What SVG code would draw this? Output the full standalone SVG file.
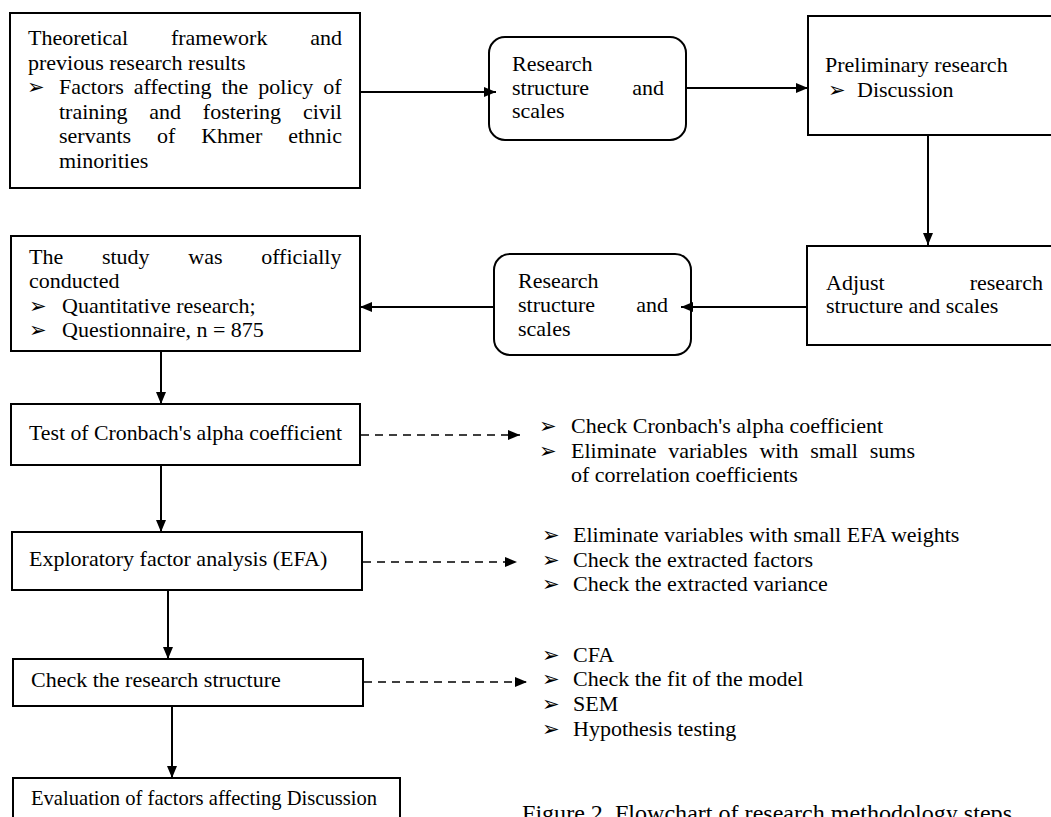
<svg xmlns="http://www.w3.org/2000/svg" width="1051" height="817" viewBox="0 0 1051 817">
<style>
  .box { fill: #ffffff; stroke: #000000; stroke-width: 2; }
  .t { font-family: "Liberation Serif", "Times New Roman", serif; font-size: 22px; fill: #000000; }
  .b { font-family: "DejaVu Sans", sans-serif; font-size: 21px; fill: #000000; }
  .cap { font-family: "Liberation Serif", "Times New Roman", serif; font-size: 23px; fill: #000000; }
  .line { fill: none; stroke: #000000; stroke-width: 2; }
  .dash { fill: none; stroke: #000000; stroke-width: 1.6; stroke-dasharray: 8 6; }
</style>
<defs>
  <marker id="arr" markerUnits="userSpaceOnUse" markerWidth="13" markerHeight="11" refX="12" refY="5" orient="auto" viewBox="0 0 13 11">
    <path d="M0,0 L12,5 L0,10 z" fill="#000000"/>
  </marker>
</defs>
<rect width="1051" height="817" fill="#ffffff"/>

<g id="theory">
  <rect class="box" x="10" y="13" width="350" height="175"/>
  <text class="t" x="28" y="45" word-spacing="37.25">Theoretical framework and</text>
  <text class="t" x="28" y="69.5">previous research results</text>
  <text class="b" x="27" y="94">➢</text>
  <text class="t" x="59" y="94" word-spacing="4.45">Factors affecting the policy of</text>
  <text class="t" x="59" y="118.5" word-spacing="16.33">training and fostering civil</text>
  <text class="t" x="59" y="143" word-spacing="20.4">servants of Khmer ethnic</text>
  <text class="t" x="59" y="167.5">minorities</text>
</g>

<g id="scales1">
  <rect class="box" x="489" y="37" width="197" height="103" rx="16" ry="16"/>
  <text class="t" x="512" y="71">Research</text>
  <text class="t" x="512" y="95" word-spacing="37.7">structure and</text>
  <text class="t" x="512" y="118">scales</text>
</g>

<g id="preliminary">
  <rect class="box" x="808" y="16" width="260" height="119"/>
  <text class="t" x="825" y="72">Preliminary research</text>
  <text class="b" x="828" y="97">➢</text>
  <text class="t" x="857" y="97">Discussion</text>
</g>

<g id="adjust">
  <rect class="box" x="807" y="246" width="260" height="99"/>
  <text class="t" x="826" y="290" word-spacing="79.5">Adjust research</text>
  <text class="t" x="826" y="313">structure and scales</text>
</g>

<g id="scales2">
  <rect class="box" x="494" y="254" width="197" height="101" rx="16" ry="16"/>
  <text class="t" x="518" y="288">Research</text>
  <text class="t" x="518" y="312" word-spacing="35.7">structure and</text>
  <text class="t" x="518" y="336">scales</text>
</g>

<g id="official">
  <rect class="box" x="11" y="236" width="349" height="115"/>
  <text class="t" x="29" y="264" word-spacing="33.2">The study was officially</text>
  <text class="t" x="29" y="288">conducted</text>
  <text class="b" x="29" y="313">➢</text>
  <text class="t" x="62" y="313">Quantitative research;</text>
  <text class="b" x="29" y="337">➢</text>
  <text class="t" x="62" y="337">Questionnaire, n = 875</text>
</g>

<g id="cronbach">
  <rect class="box" x="11" y="404" width="349" height="61"/>
  <text class="t" x="29" y="440" textLength="313" lengthAdjust="spacingAndGlyphs">Test of Cronbach's alpha coefficient</text>
</g>

<g id="cronbach-notes">
  <text class="b" x="539" y="433">➢</text>
  <text class="t" x="571" y="433">Check Cronbach's alpha coefficient</text>
  <text class="b" x="539" y="458">➢</text>
  <text class="t" x="571" y="458" word-spacing="6.25">Eliminate variables with small sums</text>
  <text class="t" x="571" y="482">of correlation coefficients</text>
</g>

<g id="efa">
  <rect class="box" x="12" y="532" width="350" height="58"/>
  <text class="t" x="29" y="566">Exploratory factor analysis (EFA)</text>
</g>

<g id="efa-notes">
  <text class="b" x="542" y="542">➢</text>
  <text class="t" x="573" y="542">Eliminate variables with small EFA weights</text>
  <text class="b" x="542" y="567">➢</text>
  <text class="t" x="573" y="567">Check the extracted factors</text>
  <text class="b" x="542" y="591">➢</text>
  <text class="t" x="573" y="591">Check the extracted variance</text>
</g>

<g id="structure">
  <rect class="box" x="13" y="659" width="350" height="47"/>
  <text class="t" x="31" y="687">Check the research structure</text>
</g>

<g id="structure-notes">
  <text class="b" x="542" y="662">➢</text>
  <text class="t" x="573" y="662">CFA</text>
  <text class="b" x="542" y="686">➢</text>
  <text class="t" x="573" y="686">Check the fit of the model</text>
  <text class="b" x="542" y="711">➢</text>
  <text class="t" x="573" y="711">SEM</text>
  <text class="b" x="542" y="736">➢</text>
  <text class="t" x="573" y="736">Hypothesis testing</text>
</g>

<g id="evaluation">
  <rect class="box" x="13" y="778" width="387" height="60"/>
  <text class="t" x="31" y="805" textLength="346" lengthAdjust="spacingAndGlyphs">Evaluation of factors affecting Discussion</text>
</g>

<text class="cap" x="522" y="821" textLength="490" lengthAdjust="spacingAndGlyphs">Figure 2. Flowchart of research methodology steps</text>

<g id="connectors">
  <line class="line" x1="361" y1="92" x2="496" y2="92" marker-end="url(#arr)"/>
  <line class="line" x1="687" y1="88" x2="808" y2="88" marker-end="url(#arr)"/>
  <line class="line" x1="928" y1="136" x2="928" y2="245" marker-end="url(#arr)"/>
  <line class="line" x1="806" y1="307" x2="681" y2="307" marker-end="url(#arr)"/>
  <line class="line" x1="493" y1="307" x2="360" y2="307" marker-end="url(#arr)"/>
  <line class="line" x1="161" y1="352" x2="161" y2="404" marker-end="url(#arr)"/>
  <line class="line" x1="161" y1="466" x2="161" y2="532" marker-end="url(#arr)"/>
  <line class="line" x1="168" y1="591" x2="168" y2="659" marker-end="url(#arr)"/>
  <line class="line" x1="172" y1="707" x2="172" y2="778" marker-end="url(#arr)"/>
  <line class="dash" x1="361" y1="435" x2="520" y2="435" marker-end="url(#arr)"/>
  <line class="dash" x1="363" y1="562" x2="517" y2="562" marker-end="url(#arr)"/>
  <line class="dash" x1="364" y1="682" x2="527" y2="682" marker-end="url(#arr)"/>
</g>
</svg>
